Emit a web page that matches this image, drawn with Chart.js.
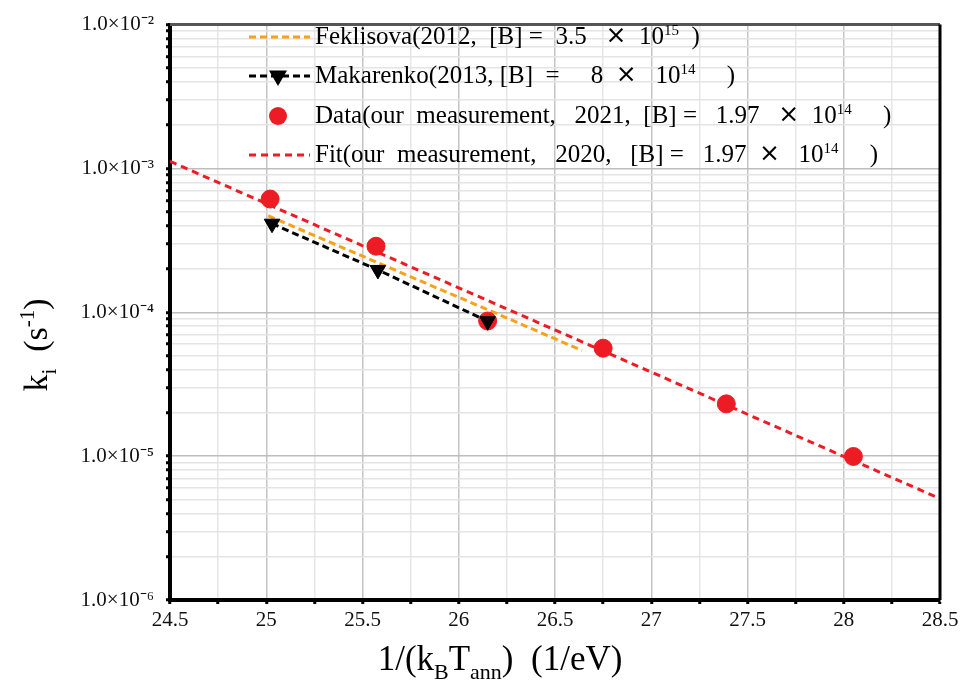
<!DOCTYPE html>
<html>
<head>
<meta charset="utf-8">
<script src="https://cdn.jsdelivr.net/npm/chart.js@4.4.0/dist/chart.umd.min.js"></script>
<style>
html, body { margin: 0; padding: 0; background: #fff; }
</style>
</head>
<body>
<canvas id="grafica" width="977" height="685"></canvas>
<script>
// datos
var feklisova_x = [25.01, 25.58, 26.16, 26.64];
var feklisova_k = [4.69e-4, 2.21e-4, 1.03e-4, 5.43e-5];

var makarenko_x = [25.03, 25.58, 26.15];
var makarenko_k = [4.13e-4, 1.97e-4, 8.67e-5];

var medidas_x = [25.02, 25.57, 26.15, 26.75, 27.39, 28.05];
var medidas_k = [6.13e-4, 2.88e-4, 8.7e-5, 5.63e-5, 2.31e-5, 9.95e-6];

var ajuste_x = [24.5, 28.5];
var ajuste_k = [1.12e-3, 5.07e-6];

var decadas_y = [1e-6, 1e-5, 1e-4, 1e-3, 1e-2];
var etiquetas_y = ["1.0×10⁻⁶", "1.0×10⁻⁵", "1.0×10⁻⁴", "1.0×10⁻³", "1.0×10⁻²"];
var etiquetas_x = [24.5, 25, 25.5, 26, 26.5, 27, 27.5, 28, 28.5];

// ^{..} = superindice
var textos_leyenda = [
	"Feklisova(2012,  [B] =  3.5   ×  10^{15}  )",
	"Makarenko(2013, [B]  =     8  ×   10^{14}     )",
	"Data(our  measurement,   2021,  [B] =   1.97   ×  10^{14}     )",
	"Fit(our  measurement,   2020,   [B] =   1.97  ×   10^{14}     )"
];

var ROJO = "#ed1c24";
var NARANJA = "#f9a11b";
var FUENTE = "'Liberation Serif', 'Times New Roman', serif";

function puntos(xs, ys)
{
	return xs.map(function (x, i) { return { x: x, y: ys[i] }; });
}

function esDecada(v)
{
	var e = Math.round(Math.log10(v));
	return Math.abs(v / Math.pow(10, e) - 1) < 1e-6;
}

function esMedio(v)
{
	return Math.abs(v * 2 - Math.round(v * 2)) < 1e-6;
}

// texto con subindices y superindices, centrado en x
function dibujaTexto(ctx, partes, x, y, tam)
{
	var ancho = 0;
	partes.forEach(function (p) {
		ctx.font = (p.s ? Math.round(tam * 0.62) : tam) + "px " + FUENTE;
		p.w = ctx.measureText(p.t).width;
		ancho += p.w;
	});
	var cx = x - ancho / 2;
	partes.forEach(function (p) {
		ctx.font = (p.s ? Math.round(tam * 0.62) : tam) + "px " + FUENTE;
		var dy = p.s === "sub" ? tam * 0.25 : (p.s === "sup" ? -tam * 0.38 : 0);
		ctx.fillText(p.t, cx, y + dy);
		cx += p.w;
	});
}

// texto de la leyenda, alineado a la izquierda
function dibujaLeyenda(ctx, texto, x, y)
{
	var trozos = texto.split(/(\^\{[^}]*\}|×)/);
	var cx = x;
	trozos.forEach(function (t) {
		if (t === "") return;
		var dy = 0;
		if (t === "×")
		{
			ctx.font = "25px 'DejaVu Sans', sans-serif";
			dy = -1;
		}
		else if (t.charAt(0) === "^")
		{
			t = t.slice(2, -1);
			ctx.font = "15px " + FUENTE;
			dy = -9;
		}
		else
		{
			ctx.font = "25px " + FUENTE;
		}
		ctx.fillText(t, cx, y + dy);
		cx += ctx.measureText(t).width;
	});
}

var pluginMarco = {
	id: "marco",
	afterDraw: function (chart)
	{
		var ctx = chart.ctx;
		var area = chart.chartArea;
		ctx.save();

		// bordes superior y derecho
		ctx.strokeStyle = "#555";
		ctx.lineWidth = 3;
		ctx.beginPath();
		ctx.moveTo(area.left, area.top);
		ctx.lineTo(area.right, area.top);
		ctx.stroke();
		ctx.strokeStyle = "#000";
		ctx.beginPath();
		ctx.moveTo(area.right, area.top);
		ctx.lineTo(area.right, area.bottom);
		ctx.stroke();

		// leyenda
		var filas = [37, 76, 116, 155];
		chart.data.datasets.forEach(function (ds, n) {
			var yf = filas[n];
			if (ds.showLine)
			{
				ctx.strokeStyle = ds.borderColor;
				ctx.lineWidth = ds.borderWidth;
				ctx.setLineDash(ds.borderDash);
				ctx.beginPath();
				ctx.moveTo(area.left + 79, yf);
				ctx.lineTo(area.left + 140, yf);
				ctx.stroke();
				ctx.setLineDash([]);
			}
			if (ds.pointRadius > 0)
			{
				var px = area.left + 108;
				var r = ds.pointRadius;
				ctx.fillStyle = ds.pointBackgroundColor;
				ctx.beginPath();
				if (ds.pointStyle === "triangle")
				{
					ctx.moveTo(px - r, yf - r * 0.6);
					ctx.lineTo(px + r, yf - r * 0.6);
					ctx.lineTo(px, yf + r * 1.1);
				}
				else
				{
					ctx.arc(px, yf, r, 0, Math.PI * 2);
				}
				ctx.closePath();
				ctx.fill();
			}
			ctx.fillStyle = "#000";
			ctx.textAlign = "left";
			ctx.textBaseline = "alphabetic";
			dibujaLeyenda(ctx, textos_leyenda[n], area.left + 145, yf + 7);
		});

		// titulos de los ejes
		ctx.fillStyle = "#000";
		ctx.textAlign = "left";
		ctx.textBaseline = "alphabetic";
		dibujaTexto(ctx, [
			{ t: "1/(k" }, { t: "B", s: "sub" }, { t: "T" }, { t: "ann", s: "sub" }, { t: ")  (1/eV)" }
		], 500, 670, 35);

		ctx.translate(47, 345);
		ctx.rotate(-Math.PI / 2);
		dibujaTexto(ctx, [
			{ t: "k" }, { t: "i", s: "sub" }, { t: "  (s" }, { t: "-1", s: "sup" }, { t: ")" }
		], 0, 0, 34);

		ctx.restore();
	}
};

var contexto = document.getElementById("grafica").getContext("2d");

new Chart(contexto, {
	type: "scatter",
	data: {
		datasets: [
			{
				label: "Feklisova",
				data: puntos(feklisova_x, feklisova_k),
				showLine: true,
				borderColor: NARANJA,
				borderWidth: 3,
				borderDash: [7, 4],
				pointRadius: 0,
				order: 2
			},
			{
				label: "Makarenko",
				data: puntos(makarenko_x, makarenko_k),
				showLine: true,
				borderColor: "#000",
				borderWidth: 3,
				borderDash: [7, 4],
				pointStyle: "triangle",
				rotation: 180,
				pointRadius: 9,
				pointBackgroundColor: "#000",
				pointBorderColor: "#000",
				pointBorderWidth: 1,
				order: 0
			},
			{
				label: "Data",
				data: puntos(medidas_x, medidas_k),
				showLine: false,
				pointStyle: "circle",
				pointRadius: 9,
				pointBackgroundColor: ROJO,
				pointBorderColor: ROJO,
				pointBorderWidth: 1,
				order: 1
			},
			{
				label: "Fit",
				data: puntos(ajuste_x, ajuste_k),
				showLine: true,
				borderColor: ROJO,
				borderWidth: 3,
				borderDash: [7, 5],
				pointRadius: 0,
				order: 3
			}
		]
	},
	options: {
		responsive: false,
		animation: false,
		layout: { padding: { top: 16, right: 37, left: 0, bottom: 0 } },
		plugins: {
			legend: { display: false },
			tooltip: { enabled: false }
		},
		scales: {
			x: {
				type: "linear",
				min: 24.5,
				max: 28.5,
				afterFit: function (escala) { escala.height = 85; },
				border: { color: "#000", width: 4 },
				grid: {
					color: function (c) { return esMedio(c.tick.value) ? "#c4c4c4" : "#e6e6e6"; },
					lineWidth: 1.5,
					tickColor: "#000",
					tickLength: 4,
					tickWidth: 3
				},
				ticks: {
					stepSize: 0.25,
					autoSkip: false,
					maxRotation: 0,
					padding: 4,
					color: "#111",
					font: { family: FUENTE, size: 21 },
					callback: function (v) { return etiquetas_x.indexOf(v) >= 0 ? String(v) : ""; }
				}
			},
			y: {
				type: "logarithmic",
				min: 1e-6,
				max: 1e-2,
				afterFit: function (escala) { escala.width = 170; },
				afterBuildTicks: function (escala) {
					var marcas = [];
					for (var e = -6; e < -2; e++)
						for (var m = 1; m < 10; m++)
							marcas.push({ value: m * Math.pow(10, e) });
					marcas.push({ value: 1e-2 });
					escala.ticks = marcas;
				},
				border: { color: "#000", width: 4 },
				grid: {
					color: function (c) { return esDecada(c.tick.value) ? "#bdbdbd" : "#e4e4e4"; },
					lineWidth: 1.5,
					tickColor: "#000",
					tickLength: 4,
					tickWidth: 3
				},
				ticks: {
					autoSkip: false,
					padding: 12,
					color: "#111",
					font: { family: FUENTE, size: 21 },
					callback: function (v) {
						for (var i = 0; i < decadas_y.length; i++)
							if (Math.abs(v / decadas_y[i] - 1) < 1e-6) return etiquetas_y[i];
						return "";
					}
				}
			}
		}
	},
	plugins: [pluginMarco]
});
</script>
</body>
</html>
